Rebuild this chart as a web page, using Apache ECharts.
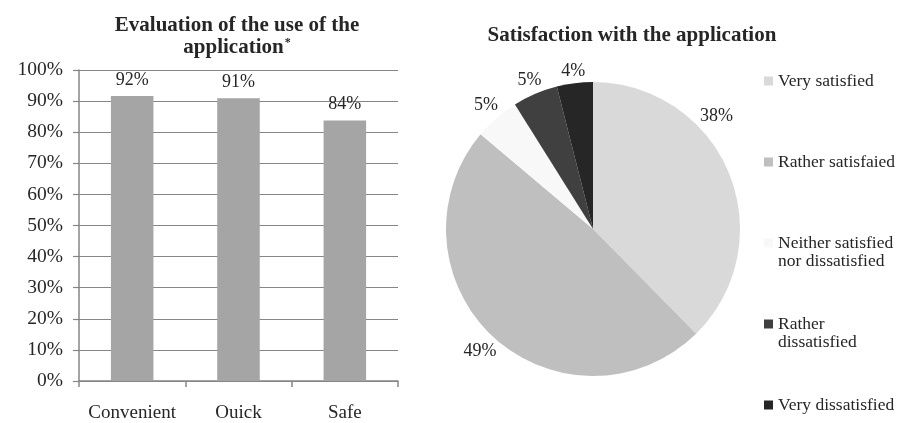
<!DOCTYPE html>
<html>
<head>
<meta charset="utf-8">
<script src="https://cdn.jsdelivr.net/npm/echarts@6/dist/echarts.min.js"></script>
<style>
html,body{margin:0;padding:0;background:#fff;}
#chart{width:903px;height:423px;}
</style>
</head>
<body>
<div id="chart"></div>
<script>
// ---- data ----
const barCategories = ['Convenient', 'Ouick', 'Safe'];
const barValues = [91.6, 90.9, 83.8];
const yMin = 0, yMax = 100, yStep = 10;

const pieNames = ['Very satisfied', 'Rather satisfaied', 'Neither satisfied\nnor dissatisfied', 'Rather\ndissatisfied', 'Very dissatisfied'];
const pieValues = [38, 49, 5, 5, 4];
const pieColors = ['#d9d9d9', '#bfbfbf', '#f8f8f8', '#404040', '#262626'];

const barTitle = 'Evaluation of the use of the\napplication{sup|*}';
const pieTitle = 'Satisfaction with the application';

// ---- style / layout ----
const FONT = '"Liberation Serif", "Times New Roman", serif';
const TXT = '#262626';
const GRID = '#868686';
const PIE_CENTER = [593, 229];
const PIE_R = 147;
const LABEL_GAP = 3;
const PIE_RIGHT_BOUND = 734;

const chart = echarts.init(document.getElementById('chart'), null, {renderer: 'canvas'});

const pieTotal = pieValues.reduce((a, b) => a + b, 0);

const option = {
  backgroundColor: '#fff',
  animation: false,
  textStyle: {fontFamily: FONT, color: TXT},
  title: [
    {
      text: barTitle,
      left: 232, top: 10, textAlign: 'center',
      textStyle: {
        fontFamily: FONT, fontSize: 21, fontWeight: 'bold', color: TXT, lineHeight: 22,
        rich: {sup: {fontFamily: FONT, fontSize: 12, fontWeight: 'bold', color: TXT, verticalAlign: 'top', padding: [0, 0, 10, 1]}}
      }
    },
    {
      text: pieTitle,
      left: 627, top: 20, textAlign: 'center',
      textStyle: {fontFamily: FONT, fontSize: 21, fontWeight: 'bold', color: TXT, lineHeight: 22}
    }
  ],
  grid: {left: 79, right: 505, top: 70, bottom: 39, containLabel: false},
  xAxis: {
    type: 'category',
    data: barCategories,
    axisLine: {show: true, lineStyle: {color: GRID, width: 1.5}},
    axisTick: {show: true, length: 6, alignWithLabel: false, lineStyle: {color: GRID, width: 1.5}},
    axisLabel: {fontFamily: FONT, fontSize: 19, color: TXT, margin: 23, interval: 0}
  },
  yAxis: {
    type: 'value',
    min: yMin, max: yMax, interval: yStep,
    axisLine: {show: true, lineStyle: {color: GRID, width: 1.5}},
    axisTick: {show: true, length: 6, lineStyle: {color: GRID, width: 1.2}},
    axisLabel: {fontFamily: FONT, fontSize: 19.5, color: TXT, margin: 16, formatter: '{value}%'},
    splitLine: {show: true, lineStyle: {color: GRID, width: 1.2}}
  },
  legend: {
    orient: 'vertical',
    left: 764, top: 54,
    height: 400,
    padding: 0,
    itemWidth: 9, itemHeight: 9, itemGap: 27,
    icon: 'rect',
    selectedMode: false,
    formatter: n => (n.indexOf('\n') >= 0 ? '\n' + n : n),
    textStyle: {fontFamily: FONT, fontSize: 17.5, color: TXT, lineHeight: 18},
    data: pieNames.map(n => ({
      name: n,
      textStyle: n.indexOf('\n') >= 0 ? {} : {padding: [18, 0, 18, 0], backgroundColor: 'rgba(0,0,0,0)'}
    }))
  },
  series: [
    {
      type: 'bar',
      data: barValues,
      barWidth: '40%',
      itemStyle: {color: '#a5a5a5'},
      label: {
        show: true, position: 'top', distance: 7,
        fontFamily: FONT, fontSize: 18, color: TXT,
        formatter: p => Math.round(p.value) + '%'
      },
      emphasis: {disabled: true}
    },
    {
      type: 'pie',
      center: PIE_CENTER,
      radius: PIE_R,
      startAngle: 90,
      clockwise: true,
      avoidLabelOverlap: false,
      data: pieNames.map((n, i) => ({name: n, value: pieValues[i], itemStyle: {color: pieColors[i]}})),
      label: {
        show: true, position: 'outside',
        fontFamily: FONT, fontSize: 18, color: TXT,
        formatter: '{c}%'
      },
      labelLine: {show: false},
      labelLayout: function (p) {
        const i = p.dataIndex;
        let cum = 0;
        for (let k = 0; k < i; k++) cum += pieValues[k];
        let ang = (cum + pieValues[i] / 2) / pieTotal * 2 * Math.PI;
        const w = p.labelRect.width, h = p.labelRect.height * 0.8;
        const place = a => {
          const sx = Math.sin(a), sy = -Math.cos(a);
          const d = PIE_R + LABEL_GAP + Math.abs(sx) * w / 2 + Math.abs(sy) * h / 2;
          return [PIE_CENTER[0] + d * sx, PIE_CENTER[1] + d * sy];
        };
        let pt = place(ang);
        while (pt[0] + w / 2 > PIE_RIGHT_BOUND && ang > 0) { ang -= 0.01; pt = place(ang); }
        return {x: pt[0], y: pt[1], align: 'center', verticalAlign: 'middle'};
      },
      emphasis: {disabled: true}
    }
  ]
};

chart.setOption(option);
</script>
</body>
</html>
